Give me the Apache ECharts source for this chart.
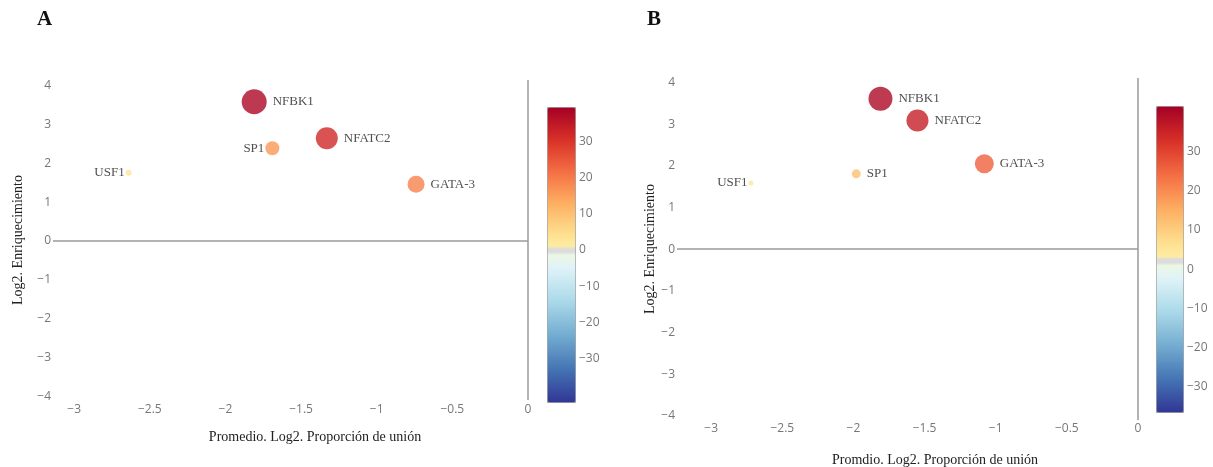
<!DOCTYPE html>
<html lang="es">
<head>
    <meta charset="UTF-8">
    <title>Enriquecimiento vs proporción de unión</title>
    <style>
        * { margin: 0; padding: 0; box-sizing: border-box; }
        body { background: #fff; }
        #chart { width: 1213px; height: 467px; }
    </style>
</head>
<body>
    <div id="chart"></div>

    <script src="https://cdn.jsdelivr.net/npm/echarts@6/dist/echarts.min.js"></script>
    <script>
        // datos
        const namesA = ['NFBK1', 'NFATC2', 'SP1', 'GATA-3', 'USF1'];
        const xA = [-1.81, -1.33, -1.69, -0.74, -2.64];
        const yA = [3.59, 2.65, 2.39, 1.46, 1.76];
        const colorValA = [38, 32, 16, 19, 3];
        const sizeValA = [25, 22, 14, 17, 6];

        const namesB = ['NFBK1', 'NFATC2', 'SP1', 'GATA-3', 'USF1'];
        const xB = [-1.81, -1.55, -1.98, -1.08, -2.72];
        const yB = [3.61, 3.09, 1.81, 2.05, 1.59];
        const colorValB = [40, 36, 12, 26, 5];
        const sizeValB = [24, 22, 9, 19, 5];

        const xTicks = [-3, -2.5, -2, -1.5, -1, -0.5, 0];
        const yTicks = [-4, -3, -2, -1, 0, 1, 2, 3, 4];
        const colorTicks = [-30, -20, -10, 0, 10, 20, 30];
        const colorRangeA = [-41.9, 39.4];
        const colorRangeB = [-36.4, 41.6];

        const leftLabels = ['USF1', 'SP1'];
        const leftLabelsB = ['USF1'];

        // escala RdYlBu invertida, la banda gris ocupa el centro
        const rdylbu = [
            [0, [49, 54, 149]], [0.1, [69, 117, 180]], [0.2, [116, 173, 209]],
            [0.3, [171, 217, 233]], [0.4, [224, 243, 248]], [0.5, [255, 255, 191]],
            [0.6, [254, 224, 144]], [0.7, [253, 174, 97]], [0.8, [244, 109, 67]],
            [0.9, [215, 48, 39]], [1, [165, 0, 38]]
        ];

        function scaleColor(f) {
            for (let i = 1; i < rdylbu.length; i++) {
                if (f <= rdylbu[i][0]) {
                    const a = rdylbu[i - 1], b = rdylbu[i];
                    const t = (f - a[0]) / (b[0] - a[0]);
                    const c = a[1].map((v, k) => Math.round(v + (b[1][k] - v) * t));
                    return `rgb(${c.join(',')})`;
                }
            }
            return 'rgb(165,0,38)';
        }

        function buildColors(range, mid, gh) {
            const n = 400, out = [];
            for (let i = 0; i < n; i++) {
                const v = range[0] + i / (n - 1) * (range[1] - range[0]);
                if (Math.abs(v - mid) < gh) { out.push('#dcdcdc'); continue; }
                let f;
                if (v > mid) f = 0.56 + 0.44 * (v - mid - gh) / (range[1] - mid - gh);
                else f = 0.44 - 0.44 * (mid - gh - v) / (mid - gh - range[0]);
                out.push(scaleColor(f));
            }
            return out;
        }

        function points(names, xs, ys, cv, sz, lefts) {
            return names.map((n, i) => ({
                name: n,
                value: [xs[i], ys[i], cv[i], sz[i]],
                label: lefts.includes(n) ? { position: 'left', distance: 1 } : { position: 'right', distance: 6 }
            }));
        }

        const minus = v => String(v).replace('-', '\u2212');
        const tickFont = { color: '#777', fontSize: 12, fontFamily: 'Open Sans' };
        const serif = 'Liberation Serif';

        const grids = [
            { left: 53, top: 80, width: 475, height: 320 },
            { left: 677, top: 78, width: 461, height: 342 },
            { left: 547, top: 107, width: 28, height: 295 },
            { left: 1156, top: 106, width: 27, height: 306 }
        ];

        function valueX(gi, min, margin) {
            return {
                type: 'value', gridIndex: gi, min: min, max: 0,
                axisLine: { show: false }, axisTick: { show: false }, splitLine: { show: false },
                axisLabel: Object.assign({ customValues: xTicks, formatter: minus, margin: margin }, tickFont)
            };
        }

        function valueY(gi, min, max, gap) {
            return {
                type: 'value', gridIndex: gi, min: min, max: max,
                name: 'Log2. Enriquecimiento', nameLocation: 'middle', nameGap: gap,
                nameTextStyle: { fontFamily: serif, fontSize: 14, color: '#222' },
                axisLine: { show: false }, axisTick: { show: false }, splitLine: { show: false },
                axisLabel: Object.assign({ customValues: yTicks, formatter: minus, margin: 2 }, tickFont)
            };
        }

        function barAxis(gi, range) {
            return {
                type: 'value', gridIndex: gi, min: range[0], max: range[1], position: 'right',
                axisLine: { show: false }, axisTick: { show: false }, splitLine: { show: false },
                axisLabel: Object.assign({ customValues: colorTicks, formatter: minus, margin: 4 }, tickFont)
            };
        }

        const zeroLines = {
            silent: true, symbol: 'none', label: { show: false },
            lineStyle: { color: '#9a9a9a', width: 1.5, type: 'solid' },
            data: [{ yAxis: 0 }, { xAxis: 0 }]
        };

        function scatter(xi, data) {
            return {
                type: 'scatter', xAxisIndex: xi, yAxisIndex: xi,
                data: data,
                symbolSize: d => d[3],
                itemStyle: { opacity: 0.8 },
                label: {
                    show: true, formatter: p => p.name,
                    fontFamily: serif, fontSize: 13, color: '#222'
                },
                emphasis: { disabled: true },
                markLine: zeroLines
            };
        }

        function colorBar(si, grid, range, mid) {
            return {
                type: 'continuous', seriesIndex: si, dimension: 2,
                min: range[0], max: range[1], calculable: false, hoverLink: false,
                left: grid.left, top: grid.top, itemWidth: grid.width, itemHeight: grid.height,
                padding: 0, text: null, showLabel: false,
                borderColor: '#999', borderWidth: 1,
                inRange: { color: buildColors(range, mid, 0.85) }
            };
        }

        const chart = echarts.init(document.getElementById('chart'));
        chart.setOption({
            backgroundColor: '#fff',
            animation: false,
            grid: grids,
            xAxis: [
                valueX(0, -3.14, 4),
                valueX(1, -3.24, 3),
                { type: 'value', gridIndex: 2, show: false },
                { type: 'value', gridIndex: 3, show: false }
            ],
            yAxis: [
                valueY(0, -4.1, 4.15, 28),
                valueY(1, -4.1, 4.11, 19),
                barAxis(2, colorRangeA),
                barAxis(3, colorRangeB)
            ],
            visualMap: [
                colorBar(0, grids[2], colorRangeA, 0),
                colorBar(1, grids[3], colorRangeB, 2.3)
            ],
            series: [
                scatter(0, points(namesA, xA, yA, colorValA, sizeValA, leftLabels)),
                scatter(1, points(namesB, xB, yB, colorValB, sizeValB, leftLabelsB))
            ],
            graphic: [
                { type: 'text', left: 37, top: 9, style: { text: 'A', font: 'bold 21px "Liberation Serif"', fill: '#111' } },
                { type: 'text', left: 647, top: 9, style: { text: 'B', font: 'bold 21px "Liberation Serif"', fill: '#111' } },
                { type: 'text', x: 315, y: 437, style: { text: 'Promedio. Log2. Proporción de unión', font: '14px "Liberation Serif"', fill: '#222', align: 'center', verticalAlign: 'middle' } },
                { type: 'text', x: 935, y: 460, style: { text: 'Promdio. Log2. Proporción de unión', font: '14px "Liberation Serif"', fill: '#222', align: 'center', verticalAlign: 'middle' } }
            ]
        });
    </script>
</body>
</html>
